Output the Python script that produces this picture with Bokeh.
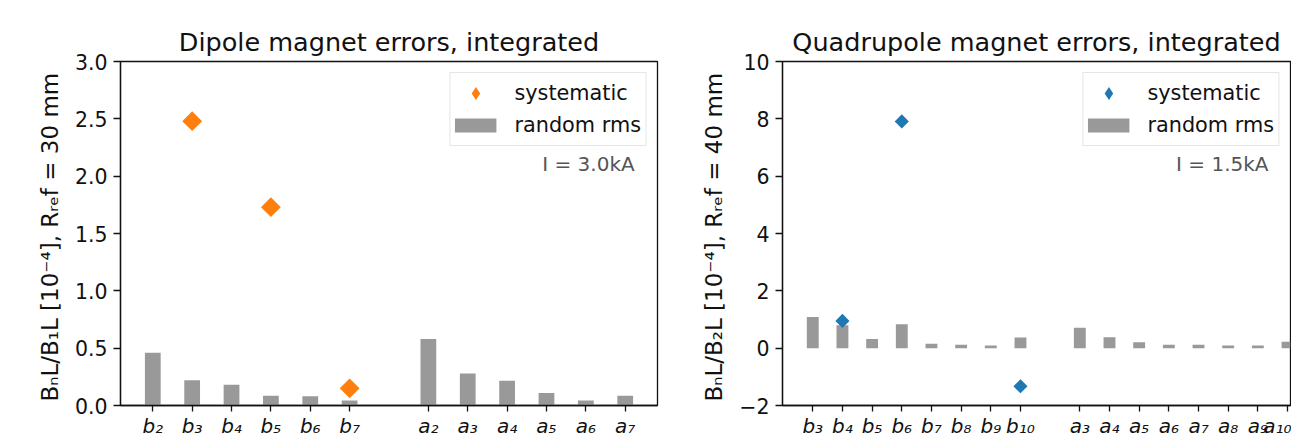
import math
from bokeh.plotting import figure
from bokeh.layouts import row
from bokeh.models import (Range1d, FixedTicker, Legend, LegendItem, Label,
                          PrintfTickFormatter)
from bokeh.embed import file_html
from bokeh.resources import INLINE

nan = float("nan")

# ---- Dipole data ----
dip_b = ["b₂", "b₃", "b₄", "b₅", "b₆", "b₇"]
dip_a = ["a₂", "a₃", "a₄", "a₅", "a₆", "a₇"]
dip_sys = [nan, 2.48, nan, 1.73, nan, 0.15, nan, nan, nan, nan, nan, nan]
dip_rms = [0.46, 0.22, 0.18, 0.085, 0.08, 0.043, 0.58, 0.28, 0.215, 0.11, 0.043, 0.085]

# ---- Quadrupole data ----
quad_b = ["b₃", "b₄", "b₅", "b₆", "b₇", "b₈", "b₉", "b₁₀"]
quad_a = ["a₃", "a₄", "a₅", "a₆", "a₇", "a₈", "a₉", "a₁₀"]
quad_sys = [nan, 0.95, nan, 7.91, nan, nan, nan, -1.33,
            nan, nan, nan, nan, nan, nan, nan, nan]
quad_rms = [1.09, 0.80, 0.32, 0.83, 0.15, 0.12, 0.09, 0.37,
            0.71, 0.38, 0.21, 0.12, 0.12, 0.09, 0.09, 0.22]

FONT = "DejaVu Sans"
GREY = "#999999"
INK = "#111111"


def positions(bl, al):
    return list(range(len(bl))) + [len(bl) + 1 + i for i in range(len(al))]


def make_panel(title, bl, al, sysv, rms, color, ylabel, xr, yr, yticks, yoverrides,
               width, mb_left, mb_right, msize, note, note_xy):
    xs = positions(bl, al)
    labels = bl + al
    p = figure(width=width, height=440, output_backend="svg", toolbar_location=None,
               x_range=Range1d(*xr), y_range=Range1d(*yr),
               min_border_left=mb_left, min_border_right=mb_right,
               min_border_top=61, min_border_bottom=30,
               background_fill_color="white", border_fill_color="white")
    p.title.text = title
    p.title.align = "center"
    p.title.text_font = FONT
    p.title.text_font_size = "25.5px"
    p.title.text_font_style = "normal"
    p.title.text_color = INK
    p.title.standoff = 9
    p.grid.visible = False
    p.outline_line_color = INK
    p.outline_line_width = 1.3
    p.outline_line_alpha = 1

    for ax in (p.xaxis[0], p.yaxis[0]):
        ax.axis_line_color = INK
        ax.axis_line_width = 1.3
        ax.major_tick_line_color = INK
        ax.major_tick_line_width = 1.3
        ax.major_tick_out = 7
        ax.major_tick_in = 0
        ax.minor_tick_line_color = None
        ax.major_label_text_font = FONT
        ax.major_label_text_font_size = "20.5px"
        ax.major_label_text_color = INK

    p.xaxis.ticker = FixedTicker(ticks=xs)
    p.xaxis.major_label_overrides = {x: l for x, l in zip(xs, labels)}
    p.xaxis.major_label_text_font_style = "italic"
    p.xaxis.major_label_text_font_size = "20px"
    p.xaxis.major_tick_out = 6
    p.xaxis.major_label_standoff = 2

    p.yaxis.ticker = FixedTicker(ticks=yticks)
    if yoverrides:
        p.yaxis.major_label_overrides = yoverrides
    else:
        p.yaxis.formatter = PrintfTickFormatter(format="%.1f")
    p.yaxis.major_label_standoff = 6
    p.yaxis.axis_label = ylabel
    p.yaxis.axis_label_text_font = FONT
    p.yaxis.axis_label_text_font_size = "23px"
    p.yaxis.axis_label_text_font_style = "normal"
    p.yaxis.axis_label_text_color = INK
    p.yaxis.axis_label_standoff = 9

    p.vbar(x=xs, top=rms, bottom=0, width=0.4, fill_color=GREY, line_color=None)
    p.scatter(x=xs, y=sysv, marker="square", angle=math.pi / 4, size=msize,
              fill_color=color, line_color=None)
    # legend keys (no data drawn)
    key_sys = p.scatter(x=[nan], y=[nan], marker="diamond", fill_color=color, line_color=None)
    key_rms = p.line(x=[nan], y=[nan], line_color=GREY, line_width=14, line_cap="butt")

    leg = Legend(items=[LegendItem(label="systematic", renderers=[key_sys]),
                        LegendItem(label="random rms", renderers=[key_rms])],
                 location="top_right")
    leg.label_text_font = FONT
    leg.label_text_font_size = "20.8px"
    leg.label_text_color = INK
    leg.glyph_width = 42
    leg.glyph_height = 32
    leg.label_height = 32
    leg.label_standoff = 18
    leg.padding = 4
    leg.spacing = -2
    leg.margin = 11
    leg.border_line_color = "#cccccc"
    leg.border_line_width = 1
    leg.background_fill_alpha = 0.8
    p.add_layout(leg, "center")

    p.add_layout(Label(x=note_xy[0], y=note_xy[1], text=note, text_align="right",
                       text_baseline="middle", text_font=FONT, text_font_size="20px",
                       text_color="#555555"))
    return p


p1 = make_panel("Dipole magnet errors, integrated", dip_b, dip_a, dip_sys, dip_rms,
                "#ff7f0e", "BₙL/B₁L [10⁻⁴],  Rᵣₑf = 30 mm",
                (-0.82, 12.82), (0, 3), [0, 0.5, 1.0, 1.5, 2.0, 2.5, 3.0], None,
                680, 120, 23, 14, "I = 3.0kA", (12.24, 2.11))

p2 = make_panel("Quadrupole magnet errors, integrated", quad_b, quad_a, quad_sys, quad_rms,
                "#1f77b4", "BₙL/B₂L [10⁻⁴],  Rᵣₑf = 40 mm",
                (-1.02, 16.1), (-2, 10), [-2, 0, 2, 4, 6, 8, 10], {-2: "−2"},
                611, 102, 1, 10, "I = 1.5kA", (15.36, 6.43))

layout = row(p1, p2)
open("out.html", "w").write(file_html(layout, INLINE))
